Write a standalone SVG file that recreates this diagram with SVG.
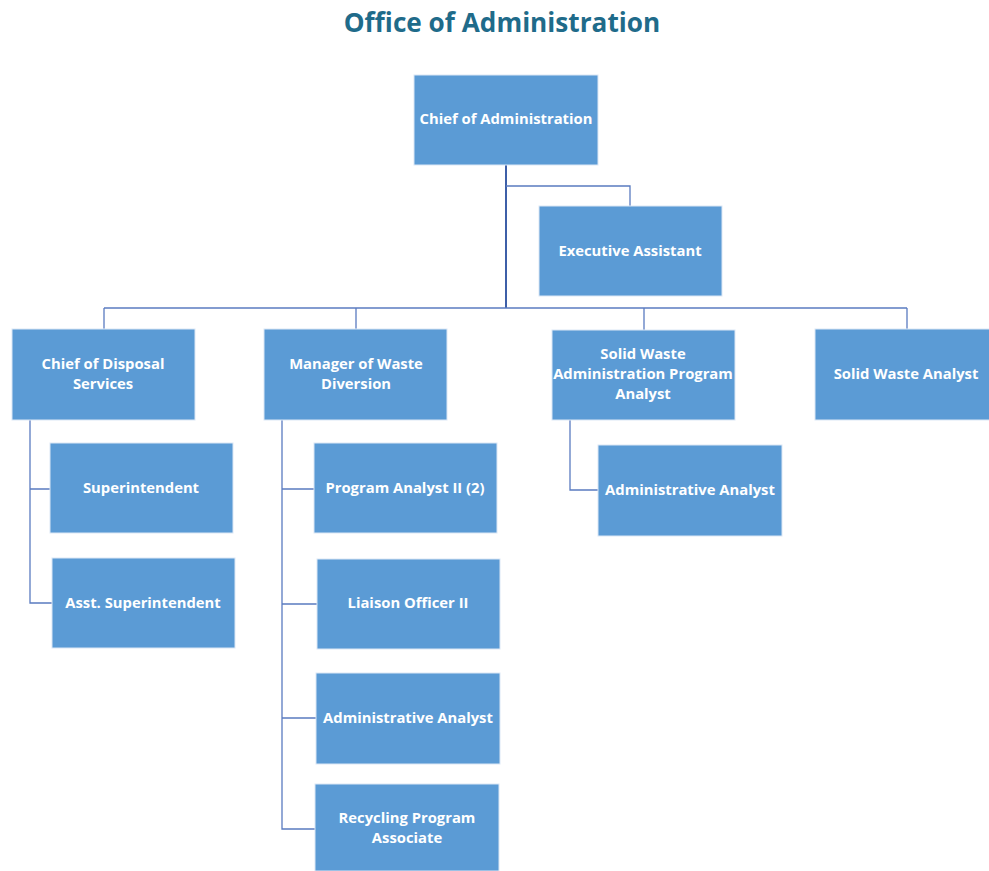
<svg xmlns="http://www.w3.org/2000/svg" width="989" height="871" viewBox="0 0 989 871">
<style>
.box{fill:#5B9BD5;stroke:#DCE7F5;stroke-width:1}
.lbl{font-family:"Open Sans","Liberation Sans",sans-serif;font-weight:bold;font-size:14.8px;fill:#FFFFFF;text-anchor:middle}
.ttl{font-family:"Open Sans","Liberation Sans",sans-serif;font-weight:bold;font-size:26.2px;fill:#1F6B8A;text-anchor:middle}
.ln{fill:none;stroke:#5A7BC0;stroke-width:1.3}
.trunk{fill:none;stroke:#3D5FA8;stroke-width:2}
</style>
<rect width="989" height="871" fill="#FFFFFF"/>
<text class="ttl" x="502" y="32">Office of Administration</text>
<g id="connectors">
<path class="trunk" d="M506 165V308"/>
<path class="ln" d="M506 186H630V206"/>
<path class="ln" d="M104 308H907"/>
<path class="ln" d="M104 308V329M356 308V329M644 308V330M907 308V329"/>
<path class="ln" d="M30 420V603H52M30 489H50"/>
<path class="ln" d="M282 420V829H315M282 489H314M282 604H317M282 718H316"/>
<path class="ln" d="M570 420V490H598"/>
</g>
<g id="chief-admin"><rect class="box" x="414" y="75" width="184" height="90"/><text class="lbl" x="506" y="124">Chief of Administration</text></g>
<g id="exec-assistant"><rect class="box" x="539" y="206" width="183" height="90"/><text class="lbl" x="630" y="256">Executive Assistant</text></g>
<g id="chief-disposal"><rect class="box" x="12" y="329" width="183" height="91"/><text class="lbl" x="103" y="369">Chief of Disposal</text><text class="lbl" x="103" y="389">Services</text></g>
<g id="manager-waste"><rect class="box" x="264" y="329" width="183" height="91"/><text class="lbl" x="356" y="369">Manager of Waste</text><text class="lbl" x="356" y="389">Diversion</text></g>
<g id="sw-admin-analyst"><rect class="box" x="552" y="330" width="183" height="90"/><text class="lbl" x="643" y="359">Solid Waste</text><text class="lbl" x="643" y="379">Administration Program</text><text class="lbl" x="643" y="399">Analyst</text></g>
<g id="sw-analyst"><rect class="box" x="815" y="329" width="183" height="91"/><text class="lbl" x="906" y="379">Solid Waste Analyst</text></g>
<g id="superintendent"><rect class="box" x="50" y="443" width="183" height="90"/><text class="lbl" x="141" y="493">Superintendent</text></g>
<g id="asst-superintendent"><rect class="box" x="52" y="558" width="183" height="90"/><text class="lbl" x="143" y="608">Asst. Superintendent</text></g>
<g id="program-analyst"><rect class="box" x="314" y="443" width="183" height="90"/><text class="lbl" x="405" y="493">Program Analyst II (2)</text></g>
<g id="liaison"><rect class="box" x="317" y="559" width="183" height="90"/><text class="lbl" x="408" y="608">Liaison Officer II</text></g>
<g id="admin-analyst-1"><rect class="box" x="316" y="673" width="184" height="91"/><text class="lbl" x="408" y="723">Administrative Analyst</text></g>
<g id="recycling"><rect class="box" x="315" y="784" width="184" height="87"/><text class="lbl" x="407" y="823">Recycling Program</text><text class="lbl" x="407" y="843">Associate</text></g>
<g id="admin-analyst-2"><rect class="box" x="598" y="445" width="184" height="91"/><text class="lbl" x="690" y="495">Administrative Analyst</text></g>
</svg>
